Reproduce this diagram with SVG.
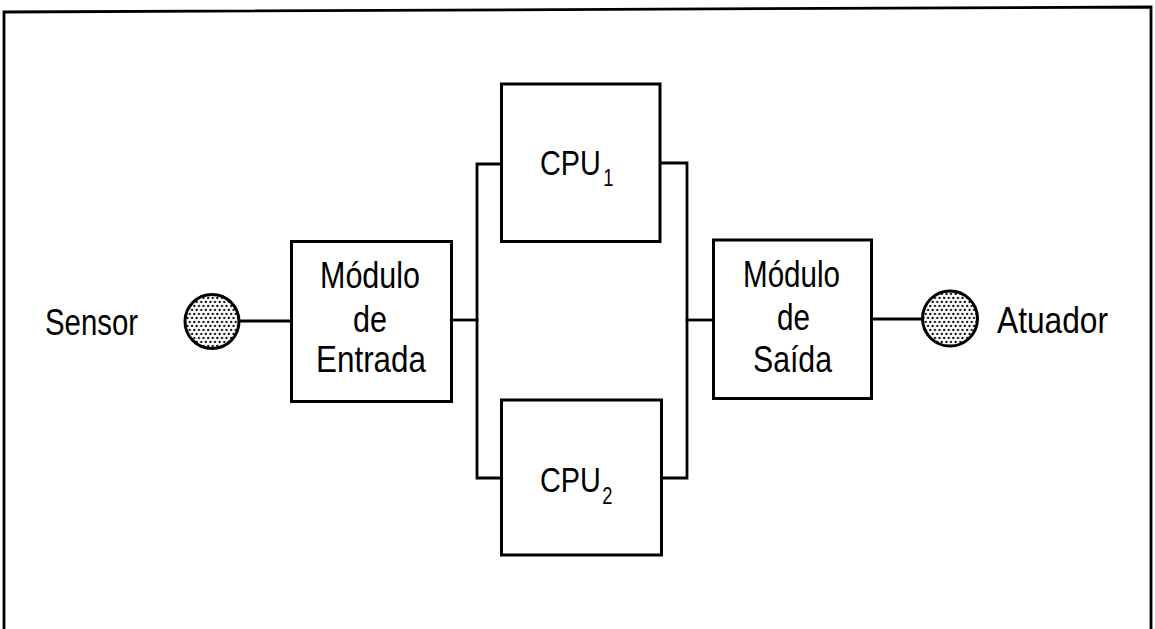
<svg xmlns="http://www.w3.org/2000/svg" width="1155" height="629" viewBox="0 0 1155 629">
<style>
.ln{fill:none;stroke:#000;stroke-width:2.8;stroke-linecap:square}
.bx{fill:#fff;stroke:#000;stroke-width:3}
.t{font-family:"Liberation Sans",Arial,sans-serif;font-size:36px;fill:#000}
.s{font-size:23px}
.dot{fill:url(#stip);stroke:#000;stroke-width:3}
</style>
<defs>
<pattern id="stip" patternUnits="userSpaceOnUse" width="4.6" height="8" x="0" y="0">
<rect width="4.6" height="8" fill="#fff"/>
<circle cx="1.15" cy="2" r="1.15" fill="#000"/>
<circle cx="3.45" cy="6" r="1.15" fill="#000"/>
</pattern>
</defs>
<rect width="1155" height="629" fill="#fff"/>
<g id="frame">
<polyline class="ln" points="4,629 4,12 1151,7 1151,629"/>
</g>
<g id="connectors">
<line class="ln" x1="240" y1="321" x2="291" y2="321"/>
<line class="ln" x1="452" y1="320" x2="477" y2="320"/>
<polyline class="ln" points="502,164 477,164 477,478 502,478"/>
<polyline class="ln" points="661,163 687,163 687,478 661,478"/>
<line class="ln" x1="687" y1="320" x2="713" y2="320"/>
<line class="ln" x1="872" y1="319" x2="922" y2="319"/>
</g>
<g id="sensor">
<circle class="dot" cx="212" cy="321.5" r="27"/>
<text class="t" x="45" y="335" textLength="93" lengthAdjust="spacingAndGlyphs">Sensor</text>
</g>
<g id="modulo-entrada">
<rect class="bx" x="291.5" y="241.5" width="160" height="160"/>
<text class="t" x="320" y="288" textLength="100" lengthAdjust="spacingAndGlyphs">Módulo</text>
<text class="t" x="353" y="331.5" textLength="34" lengthAdjust="spacingAndGlyphs">de</text>
<text class="t" x="316" y="371.5" textLength="110" lengthAdjust="spacingAndGlyphs">Entrada</text>
</g>
<g id="cpu1">
<rect class="bx" x="501.5" y="84" width="158.5" height="157.5"/>
<text class="t" transform="translate(540,175) scale(0.8,1)">CPU<tspan class="s" dx="3" dy="10.5">1</tspan></text>
</g>
<g id="cpu2">
<rect class="bx" x="501.5" y="400" width="160" height="155"/>
<text class="t" transform="translate(540,492) scale(0.8,1)">CPU<tspan class="s" dx="2" dy="11.5">2</tspan></text>
</g>
<g id="modulo-saida">
<rect class="bx" x="713.5" y="240" width="158" height="158.5"/>
<text class="t" x="743" y="287" textLength="97" lengthAdjust="spacingAndGlyphs">Módulo</text>
<text class="t" x="777" y="330" textLength="33" lengthAdjust="spacingAndGlyphs">de</text>
<text class="t" x="753" y="371.5" textLength="79" lengthAdjust="spacingAndGlyphs">Saída</text>
</g>
<g id="atuador">
<circle class="dot" cx="950" cy="318.5" r="27.5"/>
<text class="t" x="997" y="333" textLength="111" lengthAdjust="spacingAndGlyphs">Atuador</text>
</g>
</svg>
